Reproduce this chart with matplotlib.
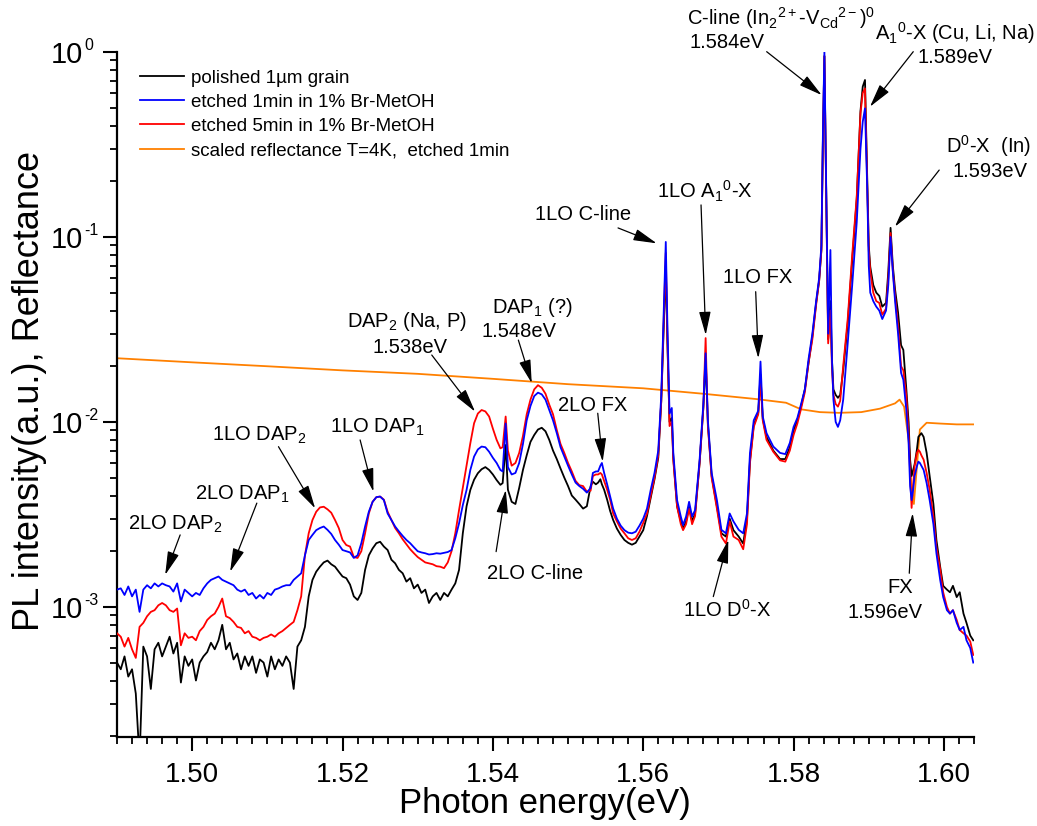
import numpy as np
import matplotlib
matplotlib.use('Agg')
import matplotlib.pyplot as plt
from matplotlib.ticker import MultipleLocator, LogLocator, NullFormatter, FormatStrFormatter
from matplotlib.transforms import blended_transform_factory, ScaledTranslation

plt.rcParams['font.family'] = ['Liberation Sans', 'DejaVu Sans']
plt.rcParams['mathtext.fontset'] = 'custom'
plt.rcParams['mathtext.rm'] = 'Liberation Sans'
plt.rcParams['mathtext.it'] = 'Liberation Sans:italic'
plt.rcParams['mathtext.bf'] = 'Liberation Sans:bold'
plt.rcParams['mathtext.sf'] = 'Liberation Sans'
plt.rcParams['axes.unicode_minus'] = False

# ---------------- data (PL intensities in units of 1e-3) ----------------
energy_a = [1.4900, 1.4905, 1.4910, 1.4915, 1.4920, 1.4925, 1.4930, 1.4935, 1.4940, 1.4945,
            1.4950, 1.4955, 1.4960, 1.4965, 1.4970, 1.4975, 1.4980, 1.4985, 1.4990, 1.4995,
            1.5000, 1.5005, 1.5010, 1.5015, 1.5020, 1.5025, 1.5030, 1.5035, 1.5040, 1.5045,
            1.5050, 1.5055, 1.5060, 1.5065, 1.5070, 1.5075, 1.5080, 1.5085, 1.5090, 1.5095,
            1.5100, 1.5105, 1.5110, 1.5115, 1.5120, 1.5125, 1.5130, 1.5135, 1.5140, 1.5145]
black_a = [0.50, 0.46, 0.54, 0.42, 0.46, 0.34, 0.15, 0.61, 0.54, 0.36,
           0.59, 0.64, 0.54, 0.61, 0.69, 0.56, 0.64, 0.39, 0.54, 0.48,
           0.52, 0.40, 0.50, 0.54, 0.57, 0.64, 0.59, 0.66, 0.80, 0.59,
           0.64, 0.52, 0.56, 0.46, 0.54, 0.48, 0.54, 0.44, 0.52, 0.50,
           0.42, 0.54, 0.46, 0.52, 0.48, 0.54, 0.50, 0.36, 0.61, 0.66]
blue_a = [1.24, 1.26, 1.16, 1.29, 1.14, 1.24, 0.94, 1.24, 1.31, 1.26,
          1.34, 1.29, 1.34, 1.31, 1.29, 1.21, 1.34, 1.07, 1.24, 1.19,
          1.14, 1.19, 1.16, 1.26, 1.34, 1.40, 1.43, 1.46, 1.40, 1.37,
          1.34, 1.31, 1.24, 1.21, 1.24, 1.16, 1.19, 1.11, 1.16, 1.11,
          1.19, 1.16, 1.24, 1.26, 1.29, 1.31, 1.31, 1.40, 1.46, 1.52]
red_a = [0.72, 0.69, 0.61, 0.68, 0.59, 0.53, 0.78, 0.82, 0.89, 0.94,
         0.96, 1.02, 1.05, 1.02, 0.96, 0.94, 0.98, 0.62, 0.72, 0.68,
         0.69, 0.66, 0.74, 0.78, 0.85, 0.89, 0.92, 1.00, 1.11, 0.89,
         0.87, 0.83, 0.78, 0.77, 0.72, 0.74, 0.69, 0.68, 0.66, 0.68,
         0.69, 0.71, 0.69, 0.72, 0.74, 0.77, 0.80, 0.83, 0.96, 1.14]

energy_b = [1.5150, 1.5155, 1.5160, 1.5165, 1.5170, 1.5175, 1.5180, 1.5185, 1.5190, 1.5195,
            1.5200, 1.5205, 1.5210, 1.5215, 1.5220, 1.5225, 1.5230, 1.5235, 1.5240, 1.5245,
            1.5250, 1.5255, 1.5260, 1.5265, 1.5270, 1.5275, 1.5280, 1.5285, 1.5290, 1.5295,
            1.5300, 1.5305, 1.5310, 1.5315, 1.5320, 1.5325, 1.5330, 1.5335, 1.5340, 1.5345,
            1.5350, 1.5355, 1.5360, 1.5365, 1.5370, 1.5375, 1.5380, 1.5385, 1.5390, 1.5395,
            1.5400, 1.5405, 1.5410, 1.5413, 1.5417]
black_b = [0.78, 1.14, 1.40, 1.55, 1.65, 1.74, 1.78, 1.70, 1.65, 1.55,
           1.46, 1.43, 1.32, 1.14, 1.09, 1.19, 1.585, 1.90, 2.07, 2.21,
           2.25, 2.12, 2.03, 1.80, 1.72, 1.585, 1.52, 1.37, 1.43, 1.26,
           1.32, 1.19, 1.24, 1.05, 1.14, 1.19, 1.09, 1.19, 1.14, 1.24,
           1.34, 1.585, 2.50, 3.50, 4.29, 4.87, 5.28, 5.55, 5.70, 5.50,
           5.20, 4.85, 4.57, 4.67, 7.50]
blue_b = [1.90, 2.30, 2.45, 2.60, 2.67, 2.72, 2.61, 2.48, 2.30, 2.17,
          2.03, 2.00, 1.97, 1.84, 1.90, 2.21, 2.72, 3.27, 3.70, 3.92,
          3.95, 3.78, 3.20, 2.95, 2.72, 2.56, 2.42, 2.30, 2.21, 2.10,
          2.00, 1.97, 1.95, 1.92, 1.93, 1.95, 1.94, 1.96, 1.98, 2.03,
          2.35, 2.83, 3.55, 4.29, 5.50, 6.50, 7.10, 7.36, 7.30, 6.90,
          6.40, 6.00, 5.50, 5.40, 9.80]
red_b = [1.90, 2.50, 2.95, 3.27, 3.45, 3.48, 3.37, 3.23, 2.95, 2.67,
         2.30, 2.16, 2.12, 1.86, 1.84, 2.00, 2.50, 3.20, 3.70, 3.92,
         3.95, 3.80, 3.27, 2.95, 2.67, 2.50, 2.32, 2.18, 2.05, 1.95,
         1.86, 1.80, 1.74, 1.72, 1.70, 1.66, 1.65, 1.62, 1.74, 2.00,
         2.50, 3.34, 4.40, 5.75, 7.67, 9.84, 11.1, 11.6, 11.4, 10.7,
         9.20, 8.00, 7.20, 7.30, 10.7]

energy_c = [1.5420, 1.5425, 1.5430, 1.5435, 1.5440, 1.5445, 1.5450, 1.5455, 1.5460, 1.5465,
            1.5470, 1.5475, 1.5480, 1.5485, 1.5490, 1.5495, 1.5500, 1.5505, 1.5510, 1.5515,
            1.5520, 1.5525, 1.5530, 1.5533, 1.5537, 1.5540, 1.5543, 1.5545, 1.5548, 1.5552,
            1.5556, 1.5560, 1.5565, 1.5570, 1.5575, 1.5580, 1.5585, 1.5590, 1.5595]
black_c = [4.30, 3.70, 3.60, 4.40, 5.50, 6.60, 7.80, 8.50, 9.10, 9.30,
           8.90, 8.00, 7.00, 6.30, 5.60, 5.00, 4.50, 4.00, 3.80, 3.60,
           3.40, 3.50, 4.50, 4.75, 4.60, 4.70, 4.90, 4.60, 4.30, 3.80,
           3.30, 2.95, 2.65, 2.45, 2.30, 2.22, 2.17, 2.22, 2.40]
blue_c = [5.70, 5.20, 5.30, 6.00, 7.60, 10.2, 12.2, 13.8, 14.4, 14.1,
          13.2, 11.6, 10.2, 8.70, 7.30, 6.50, 5.80, 5.20, 4.70, 4.50,
          4.35, 4.15, 4.40, 5.30, 5.40, 5.40, 5.80, 6.00, 5.30, 4.60,
          3.95, 3.40, 3.00, 2.75, 2.60, 2.52, 2.50, 2.55, 2.75]
red_c = [7.00, 5.80, 6.00, 6.80, 8.40, 11.0, 13.2, 15.0, 15.8, 15.3,
         14.2, 12.4, 11.0, 9.05, 7.60, 6.80, 6.00, 5.40, 4.80, 4.55,
         4.50, 4.20, 4.25, 5.10, 5.20, 5.20, 5.30, 5.20, 4.80, 4.30,
         3.80, 3.20, 2.90, 2.65, 2.50, 2.35, 2.30, 2.35, 2.55]

energy_d = [1.5600, 1.5605, 1.5610, 1.5615, 1.5620, 1.5624, 1.5627, 1.5630, 1.5632, 1.5635,
            1.5638, 1.5640, 1.5645, 1.5650, 1.5653, 1.5657, 1.5661, 1.5665, 1.5669, 1.5675,
            1.5680, 1.5683, 1.5686, 1.5691, 1.5698, 1.5704, 1.5710, 1.5715, 1.5720, 1.5727,
            1.5733, 1.5738, 1.5742, 1.5747, 1.5753, 1.5756, 1.5759, 1.5764, 1.5773, 1.5782,
            1.5789, 1.5795]
black_d = [2.60, 3.10, 3.90, 4.90, 6.40, 13.0, 30.0, 70.0, 28.0, 10.0,
           10.5, 6.40, 3.50, 2.90, 2.65, 2.90, 3.50, 2.90, 3.20, 6.00,
           12.0, 22.0, 9.80, 5.10, 3.50, 2.50, 2.40, 3.00, 2.60, 2.40,
           2.20, 3.00, 6.20, 9.60, 11.2, 18.0, 10.4, 8.30, 7.00, 6.30,
           6.30, 7.30]
blue_d = [3.00, 3.40, 4.30, 5.30, 7.00, 14.0, 35.6, 94.0, 36.0, 11.1,
          11.9, 6.80, 3.78, 3.08, 2.77, 3.08, 3.70, 3.08, 3.34, 6.25,
          12.6, 23.5, 10.2, 5.30, 3.78, 2.61, 2.50, 3.20, 2.90, 2.61,
          2.50, 3.20, 6.80, 10.2, 11.5, 21.2, 10.7, 8.70, 7.36, 6.80,
          6.70, 7.70]
red_d = [2.85, 3.20, 4.00, 5.00, 6.60, 13.0, 33.0, 82.0, 30.0, 9.50,
         10.0, 6.20, 3.50, 2.80, 2.60, 2.80, 3.40, 2.80, 3.10, 6.00,
         12.0, 28.4, 9.50, 5.00, 3.40, 2.40, 2.20, 2.90, 2.40, 2.30,
         2.05, 2.80, 6.00, 9.40, 11.0, 17.0, 10.2, 8.00, 6.90, 6.20,
         6.10, 7.00]

energy_e = [1.5800, 1.5805, 1.5810, 1.5815, 1.5820, 1.5825, 1.5830, 1.5834, 1.5837, 1.5839,
            1.5841, 1.5843, 1.5846, 1.5849, 1.5851, 1.5853, 1.5856, 1.5859, 1.5862, 1.5866,
            1.5872, 1.5878, 1.5884, 1.5889, 1.5892, 1.5895, 1.5898, 1.5900, 1.5902, 1.5906,
            1.5910, 1.5914, 1.5918, 1.5923, 1.5926, 1.5929, 1.5932, 1.5935, 1.5939, 1.5943]
black_e = [9.00, 10.2, 12.2, 15.0, 21.0, 29.0, 44.0, 58.0, 85.0, 330.0,
           950.0, 230.0, 28.0, 45.0, 22.0, 15.0, 14.0, 13.5, 14.0, 19.0,
           34.0, 75.0, 160.0, 480.0, 650.0, 706.0, 200.0, 90.0, 69.0, 55.0,
           50.0, 48.0, 42.0, 44.0, 65.0, 112.0, 70.0, 52.0, 39.0, 26.0]
blue_e = [9.40, 10.5, 12.5, 15.0, 22.0, 30.0, 45.0, 60.0, 90.0, 360.0,
          1000.0, 250.0, 30.0, 85.0, 22.0, 13.2, 10.0, 9.40, 10.2, 13.2,
          26.6, 55.0, 120.0, 300.0, 420.0, 496.0, 180.0, 70.0, 50.0, 45.0,
          42.0, 40.0, 36.0, 40.0, 55.0, 100.0, 65.0, 45.0, 30.0, 18.4]
red_e = [8.50, 9.80, 11.8, 14.5, 21.0, 28.0, 43.0, 58.0, 85.0, 330.0,
         950.0, 230.0, 26.6, 40.0, 20.0, 14.0, 12.5, 12.1, 13.0, 20.0,
         36.0, 80.0, 165.0, 466.0, 600.0, 636.0, 190.0, 85.0, 65.0, 50.0,
         45.0, 44.0, 38.0, 41.0, 60.0, 105.0, 66.0, 48.0, 33.0, 20.0]

energy_f = [1.5946, 1.5950, 1.5953, 1.5955, 1.5957, 1.5959, 1.5961, 1.5964, 1.5966, 1.5968,
            1.5970, 1.5973, 1.5977, 1.5981, 1.5986, 1.5990, 1.5995, 1.5999, 1.6004, 1.6008,
            1.6012, 1.6017, 1.6021, 1.6026, 1.6030, 1.6035, 1.6039]
black_f = [24.5, 15.0, 10.0, 6.25, 5.10, 5.50, 5.90, 7.06, 8.30, 8.50,
           8.70, 8.30, 6.80, 5.10, 3.60, 2.30, 1.65, 1.30, 1.24, 1.20,
           1.30, 1.13, 1.20, 0.92, 0.82, 0.70, 0.66]
blue_f = [16.9, 11.6, 7.70, 4.50, 3.78, 4.30, 5.10, 5.75, 6.10, 6.00,
          5.80, 5.50, 4.67, 3.78, 2.80, 1.95, 1.40, 1.13, 0.96, 0.92,
          0.96, 0.82, 0.75, 0.78, 0.66, 0.60, 0.50]
red_f = [19.0, 13.8, 8.70, 5.30, 3.43, 4.50, 5.75, 6.80, 7.06, 6.90,
         6.60, 6.25, 5.30, 4.30, 3.08, 2.10, 1.60, 1.20, 1.00, 0.92,
         0.96, 0.85, 0.75, 0.72, 0.70, 0.65, 0.55]

# scaled reflectance (units of 1e-3)
refl_energy = [1.4900, 1.5000, 1.5100, 1.5200, 1.5300, 1.5400, 1.5500, 1.5600, 1.5680, 1.5750,
               1.5790, 1.5810, 1.5835, 1.5860, 1.5890, 1.5915, 1.5935, 1.5941, 1.5947, 1.5953,
               1.5957, 1.5960, 1.5964, 1.5968, 1.5977, 1.5995, 1.6017, 1.6039]
refl_value = [22.1, 21.0, 20.0, 19.0, 18.2, 17.1, 16.0, 15.2, 14.2, 13.3,
              12.7, 11.7, 11.3, 11.2, 11.3, 11.8, 12.6, 13.2, 12.1, 8.0,
              4.5, 3.6, 5.7, 9.1, 9.9, 9.8, 9.7, 9.7]

legend_labels = ['polished 1\u00b5m grain', 'etched 1min in 1% Br-MetOH',
                 'etched 5min in 1% Br-MetOH', 'scaled reflectance T=4K,  etched 1min']
ytick_exponents = [-3, -2, -1, 0]

energy = np.array(energy_a + energy_b + energy_c + energy_d + energy_e + energy_f)
black_pl = np.array(black_a + black_b + black_c + black_d + black_e + black_f) * 1e-3
blue_pl = np.array(blue_a + blue_b + blue_c + blue_d + blue_e + blue_f) * 1e-3
red_pl = np.array(red_a + red_b + red_c + red_d + red_e + red_f) * 1e-3
refl = np.array(refl_value) * 1e-3
assert len(energy) == len(black_pl) == len(blue_pl) == len(red_pl)

# ---------------- figure ----------------
W, H = 1037, 826
fig = plt.figure(figsize=(W / 100, H / 100), dpi=100)
ax = fig.add_axes([117 / W, 1 - 737 / H, 857 / W, 685 / H])

c_black, c_blue, c_red, c_orange = '#000000', '#0000FF', '#FF0000', '#FF8000'
lw = 1.3
l_or, = ax.plot(refl_energy, refl, color=c_orange, lw=lw, zorder=2)
l_bk, = ax.plot(energy, black_pl, color=c_black, lw=lw, zorder=3)
l_rd, = ax.plot(energy, red_pl, color=c_red, lw=lw, zorder=4)
l_bl, = ax.plot(energy, blue_pl, color=c_blue, lw=lw, zorder=5)

ax.set_yscale('log')
ax.set_xlim(1.49, 1.604)
ax.set_ylim(1.98e-4, 1.0)

for s in ['top', 'right']:
    ax.spines[s].set_visible(False)
for s in ['left', 'bottom']:
    ax.spines[s].set_linewidth(1.6)

ax.xaxis.set_major_locator(MultipleLocator(0.02))
ax.xaxis.set_minor_locator(MultipleLocator(0.002))
ax.xaxis.set_major_formatter(FormatStrFormatter('%.2f'))
ax.yaxis.set_major_locator(LogLocator(base=10, numticks=10))
ax.yaxis.set_minor_locator(LogLocator(base=10, subs=np.arange(2, 10), numticks=20))
ax.yaxis.set_major_formatter(NullFormatter())
ax.yaxis.set_minor_formatter(NullFormatter())

ax.tick_params(which='major', direction='out', length=10, width=1.5, labelsize=20)
ax.tick_params(which='minor', direction='out', length=5, width=1.3)
ax.tick_params(axis='x', which='major', pad=8)

# y tick labels: "10" with a small raised exponent
ytrans = blended_transform_factory(fig.transFigure, ax.transData)
sup_trans = ytrans + ScaledTranslation(0, 6 / 72, fig.dpi_scale_trans)
for e in ytick_exponents:
    ax.text(83 / W, 10.0 ** e, '10', transform=ytrans, fontsize=21,
            ha='right', va='center_baseline', clip_on=False)
    ax.text(84.5 / W, 10.0 ** e, str(e), transform=sup_trans, fontsize=11.5,
            ha='left', va='center_baseline', clip_on=False)

fig.text(545 / W, 1 - 813 / H, 'Photon energy(eV)', fontsize=25, ha='center', va='baseline')
fig.text(30 / W, 1 - 391 / H, 'PL intensity(a.u.), Reflectance', fontsize=26,
         rotation=90, ha='center', va='center')

leg = ax.legend([l_bk, l_bl, l_rd, l_or], legend_labels, loc='upper left',
                bbox_to_anchor=(0.027, 0.974), frameon=False, fontsize=13.5,
                handlelength=2.35, handletextpad=0.35, labelspacing=0.37,
                borderaxespad=0, borderpad=0)

# ---------------- annotations ----------------
ann_fs = 14.5
labels = [
    (r'C-line (In$_2$$^{2+}$-V$_{\mathrm{Cd}}$$^{2-}$)$^0$', 1.56582, 1.40, 'left'),
    ('1.584eV', 1.56622, 1.051, 'left'),
    (r'A$_1$$^0$-X (Cu, Li, Na)', 1.60146, 1.161, 'center'),
    ('1.589eV', 1.60146, 0.872, 'center'),
    (r'D$^0$-X  (In)', 1.60592, 0.2845, 'center'),
    ('1.593eV', 1.60618, 0.212, 'center'),
    ('1LO C-line', 1.54561, 0.1236, 'left'),
    (r'1LO A$_1$$^0$-X', 1.56822, 0.162, 'center'),
    ('1LO FX', 1.5752, 0.0562, 'center'),
    (r'DAP$_1$ (?)', 1.53985, 0.0388, 'left'),
    ('1.548eV', 1.53852, 0.0288, 'left'),
    (r'DAP$_2$ (Na, P)', 1.52061, 0.0327, 'left'),
    ('1.538eV', 1.52394, 0.0237, 'left'),
    ('2LO FX', 1.54867, 0.01147, 'left'),
    ('2LO C-line', 1.53923, 1.41e-3, 'left'),
    (r'1LO DAP$_2$', 1.50266, 7.92e-3, 'left'),
    (r'1LO DAP$_1$', 1.51835, 8.80e-3, 'left'),
    (r'2LO DAP$_1$', 1.5004, 3.82e-3, 'left'),
    (r'2LO DAP$_2$', 1.49149, 2.63e-3, 'left'),
    (r'1LO D$^0$-X', 1.56529, 0.887e-3, 'left'),
    ('FX', 1.59422, 1.19e-3, 'center'),
    ('1.596eV', 1.59222, 0.869e-3, 'center'),
]
for txt, x, y, ha in labels:
    ax.text(x, y, txt, fontsize=ann_fs, ha=ha, va='baseline', zorder=10, clip_on=False)

arrows = [  # (tail, tip)
    ((1.57642, 1.004), (1.58374, 0.585)),
    ((1.59592, 1.004), (1.59016, 0.506)),
    ((1.59937, 0.230), (1.59348, 0.1137)),
    ((1.55665, 0.1119), (1.56179, 0.0924)),
    ((1.56769, 0.149), (1.56831, 0.0295)),
    ((1.57496, 0.0506), (1.57531, 0.0221)),
    ((1.54339, 0.0277), (1.54517, 0.0162)),
    ((1.53187, 0.0230), (1.53763, 0.01137)),
    ((1.55395, 0.01114), (1.55461, 0.0061)),
    ((1.54043, 1.99e-3), (1.54172, 4.29e-3)),
    ((1.51148, 7.35e-3), (1.51636, 3.41e-3)),
    ((1.52234, 7.99e-3), (1.52411, 4.20e-3)),
    ((1.50860, 3.64e-3), (1.50505, 1.55e-3)),
    ((1.49840, 2.45e-3), (1.49641, 1.49e-3)),
    ((1.56932, 1.137e-3), (1.57132, 2.30e-3)),
    ((1.59539, 1.52e-3), (1.59584, 3.21e-3)),
]
for tail, tip in arrows:
    ax.annotate('', xy=tip, xytext=tail, zorder=11, annotation_clip=False,
                arrowprops=dict(arrowstyle='-|>,head_length=0.72,head_width=0.18',
                                mutation_scale=20, lw=0.9, color='black',
                                shrinkA=0, shrinkB=0))

fig.savefig('out.png', dpi=100)
